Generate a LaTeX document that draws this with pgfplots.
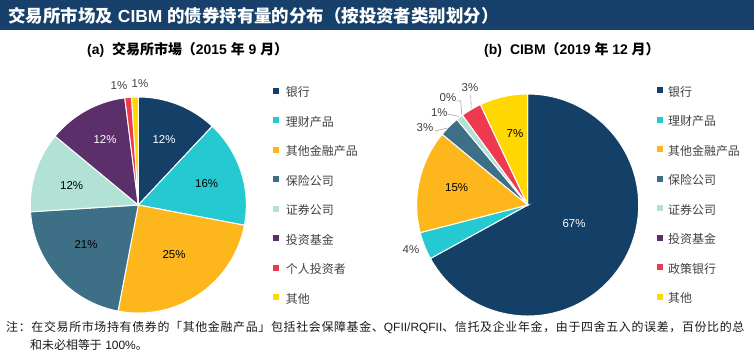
\documentclass[border=0pt]{standalone}
\usepackage{pgfplots}
\pgfplotsset{compat=1.18}
\usepackage{fontspec}
\setmainfont{Liberation Sans}
\newfontfamily\cjk{Noto Sans CJK SC}
\newfontfamily\cjkw{Noto Sans CJK SC}[LetterSpace=5.5]
\newcommand{\C}[1]{{\cjk #1}}
\newcommand{\W}[1]{{\cjkw #1}}
\definecolor{cHead}{HTML}{17406A}
\definecolor{cNavy}{HTML}{143F66}
\definecolor{cCyan}{HTML}{24C9D2}
\definecolor{cOrange}{HTML}{FDB71C}
\definecolor{cSlate}{HTML}{3D7086}
\definecolor{cMint}{HTML}{B1E2D5}
\definecolor{cPurple}{HTML}{5A2F6A}
\definecolor{cRed}{HTML}{EE3A4E}
\definecolor{cYellow}{HTML}{FFD800}
\definecolor{cLeg}{HTML}{404040}
\definecolor{cLine}{HTML}{A6A6A6}
% sector: colour, cumulative start (%), value (%), radius
\newcommand{\sector}[4]{\addplot[fill=#1, draw=white, line width=1bp, domain=90-3.6*(#2+#3):90-3.6*#2, samples=80, variable=\t] ({#4*cos(\t)},{#4*sin(\t)}) -- (axis cs:0,0) -- cycle;}
\tikzset{lbl/.style={font=\fontsize{11.5}{12}\selectfont, inner sep=0pt}}
\pgfplotsset{
  pieaxis/.style={
    x=1bp, y=1bp, xmin=-130, xmax=130, ymin=-130, ymax=130,
    hide axis, clip=false, anchor=center,
    legend cell align=left,
    legend image code/.code={\fill[##1,draw=none] (0bp,0bp) rectangle (6bp,6bp); \path[draw=none,fill=none] (0bp,0bp) -- (13bp,0bp);},
    legend style={draw=none, fill=none, inner sep=0pt, outer sep=0pt, anchor=north west,
      font=\cjk\fontsize{12}{12}\selectfont, text=cLeg, row sep=17.5bp,
      nodes={inner sep=0pt, text height=9bp, text depth=3bp}},
  },
}
\begin{document}
\begin{tikzpicture}[x=1bp,y=1bp]
\path[use as bounding box] (0,0) rectangle (754,-355);
\fill[cHead] (0,0) rectangle (754,-30);
\node[anchor=west, inner sep=0pt, text=white, font=\bfseries\fontsize{17.5}{19}\selectfont] at (8.3,-15.5) {\C{交易所市场及} CIBM \C{的债券持有量的分布（按投资者类别划分）}};
\node[anchor=west, inner sep=0pt, font=\bfseries\fontsize{14}{16}\selectfont] at (87,-50) {(a)\hspace{8bp}\C{交易所市場（}2015 \C{年} 9 \C{月）}};
\node[anchor=west, inner sep=0pt, font=\bfseries\fontsize{14}{16}\selectfont] at (484,-50) {(b)\hspace{8bp}CIBM\C{（}2019 \C{年} 12 \C{月）}};

\begin{axis}[pieaxis, at={(138.3bp,-205bp)}, legend style={at={(1.018,0.951)}}]
\sector{cNavy}{0}{12}{108}\addlegendentry{银行}
\sector{cCyan}{12}{16}{108}\addlegendentry{理财产品}
\sector{cOrange}{28}{25}{108}\addlegendentry{其他金融产品}
\sector{cSlate}{53}{21}{108}\addlegendentry{保险公司}
\sector{cMint}{74}{12}{108}\addlegendentry{证券公司}
\sector{cPurple}{86}{12}{108}\addlegendentry{投资基金}
\sector{cRed}{98}{1}{108}\addlegendentry{个人投资者}
\sector{cYellow}{99}{1}{108}\addlegendentry{其他}
\node[lbl, text=white] at (axis cs:25.7,65) {12\%};
\node[lbl, text=black] at (axis cs:68.4,21.7) {16\%};
\node[lbl, text=black] at (axis cs:35.7,-50) {25\%};
\node[lbl, text=black] at (axis cs:-52.3,-40) {21\%};
\node[lbl, text=black] at (axis cs:-66.6,19.3) {12\%};
\node[lbl, text=white] at (axis cs:-33.3,65) {12\%};
\node[lbl, text=cLeg] at (axis cs:-19.3,119) {1\%};
\node[lbl, text=cLeg] at (axis cs:1.7,121) {1\%};
\end{axis}

\begin{axis}[pieaxis, at={(527.7bp,-205bp)}, legend style={at={(0.998,0.9535)}}, legend image code/.code={\fill[#1,draw=none] (0bp,0bp) rectangle (6bp,6bp); \path[draw=none,fill=none] (0bp,0bp) -- (11bp,0bp);}]
\sector{cNavy}{0}{67}{111}\addlegendentry{银行}
\sector{cCyan}{67}{4}{111}\addlegendentry{理财产品}
\sector{cOrange}{71}{15}{111}\addlegendentry{其他金融产品}
\sector{cSlate}{86}{3}{111}\addlegendentry{保险公司}
\sector{cMint}{89}{1}{111}\addlegendentry{证券公司}
\addlegendimage{fill=cPurple, draw=none}\addlegendentry{投资基金}
\sector{cRed}{90}{3}{111}\addlegendentry{政策银行}
\sector{cYellow}{93}{7}{111}\addlegendentry{其他}
\node[lbl, text=white] at (axis cs:46.3,-19) {67\%};
\node[lbl, text=black] at (axis cs:-71,17) {15\%};
\node[lbl, text=black] at (axis cs:-12.7,71) {7\%};
\node[lbl, text=cLeg] at (axis cs:-116.7,-45) {4\%};
\node[lbl, text=cLeg] at (axis cs:-102.7,77) {3\%};
\node[lbl, text=cLeg] at (axis cs:-88.4,92.3) {1\%};
\node[lbl, text=cLeg] at (axis cs:-79.7,107.3) {0\%};
\node[lbl, text=cLeg] at (axis cs:-57.7,117) {3\%};
\draw[cLine, line width=0.6bp] (axis cs:-93,74) -- (axis cs:-80,77);
\draw[cLine, line width=0.6bp] (axis cs:-80,91) -- (axis cs:-68.5,88.5);
\draw[cLine, line width=0.6bp] (axis cs:-71,104) -- (axis cs:-67,104) -- (axis cs:-66,90.5);
\draw[cLine, line width=0.6bp] (axis cs:-57,110) -- (axis cs:-56.5,96.5);
\end{axis}

\node[anchor=base west, inner sep=0pt, font=\fontsize{12}{14}\selectfont, text=black!90] at (6,-331.5) {\W{注：在交易所市场持有债券的「其他金融产品」包括社会保障基金、}QFII/RQFII\W{、信托及企业年金，由于四舍五入的误差，百份比的总}};
\node[anchor=base west, inner sep=0pt, font=\fontsize{12}{14}\selectfont, text=black!90] at (30,-349.5) {\C{和未必相等于} 100\%\C{。}};
\end{tikzpicture}
\end{document}
